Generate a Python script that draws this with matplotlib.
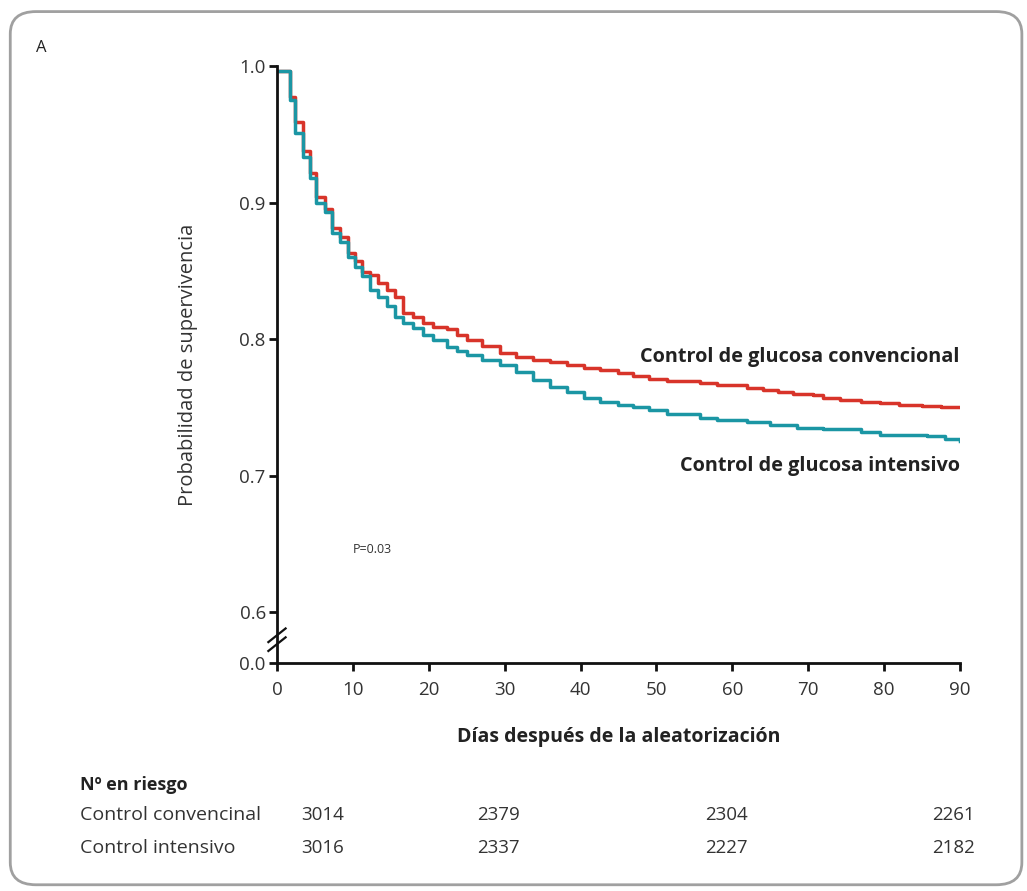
import matplotlib.pyplot as plt
from matplotlib.patches import FancyBboxPatch

plt.rcParams['font.family'] = ['Open Sans', 'DejaVu Sans']

# curva roja: control de glucosa convencional
conv_days = [0, 1.7, 2.4, 3.4, 4.3, 5.2, 6.3, 7.2, 8.3, 9.3, 10.3, 11.2, 12.3, 13.3,
             14.5, 15.5, 16.6, 17.9, 19.2, 20.5, 22.4, 23.7, 25, 27, 29.4, 31.5, 33.7,
             36, 38.2, 40.5, 42.6, 45, 46.9, 49, 51.4, 55.7, 58, 61.9, 64, 66, 68,
             70.6, 72, 74.2, 77, 79.5, 82, 85, 87.5, 90]
conv_surv = [0.996, 0.977, 0.959, 0.938, 0.922, 0.904, 0.895, 0.881, 0.875, 0.863,
             0.857, 0.849, 0.847, 0.841, 0.836, 0.831, 0.819, 0.816, 0.812, 0.809,
             0.807, 0.803, 0.799, 0.795, 0.790, 0.787, 0.785, 0.783, 0.781, 0.779,
             0.777, 0.775, 0.773, 0.771, 0.769, 0.768, 0.766, 0.764, 0.763, 0.761,
             0.760, 0.759, 0.757, 0.755, 0.754, 0.753, 0.752, 0.751, 0.750, 0.750]

# curva azul: control de glucosa intensivo
int_days = [0, 1.7, 2.4, 3.4, 4.3, 5.2, 6.3, 7.2, 8.3, 9.3, 10.3, 11.2, 12.3, 13.3,
            14.5, 15.5, 16.6, 17.9, 19.2, 20.5, 22.4, 23.7, 25, 27, 29.4, 31.5, 33.7,
            36, 38.2, 40.5, 42.6, 45, 46.9, 49, 51.4, 55.7, 58, 61.9, 65, 68.5, 72,
            75, 77, 79.5, 82, 85.6, 88, 90]
int_surv = [0.996, 0.975, 0.951, 0.933, 0.918, 0.900, 0.893, 0.878, 0.871, 0.860,
            0.853, 0.846, 0.836, 0.831, 0.824, 0.816, 0.812, 0.808, 0.803, 0.799,
            0.794, 0.791, 0.788, 0.785, 0.781, 0.776, 0.770, 0.765, 0.761, 0.757,
            0.754, 0.752, 0.750, 0.748, 0.745, 0.742, 0.741, 0.739, 0.737, 0.735,
            0.734, 0.734, 0.732, 0.730, 0.730, 0.729, 0.727, 0.725]

x_ticks = [0, 10, 20, 30, 40, 50, 60, 70, 80, 90]
y_ticks = [0.6, 0.7, 0.8, 0.9, 1.0]

risk_days = [0, 30, 60, 90]
risk_labels = ["Control convencinal", "Control intensivo"]
risk_conv = [3014, 2379, 2304, 2261]
risk_int = [3016, 2337, 2227, 2182]

RED = '#d8342a'
TEAL = '#1b96a4'
FLOOR = 0.5627  # donde se dibuja el 0.0 (eje cortado)

fig = plt.figure(figsize=(10.27, 8.91), dpi=100)

# marco redondeado
frame = FancyBboxPatch((0.010, 0.007), 0.985, 0.980,
                       boxstyle="round,pad=0,rounding_size=0.025",
                       transform=fig.transFigure, fill=False,
                       edgecolor='#a0a0a0', linewidth=2.0)
fig.patches.append(frame)
fig.text(0.040, 0.946, "A", fontsize=12, ha='center', va='center', color='#222222')

ax = fig.add_axes([0.2697, 0.2559, 0.6650, 0.6700])

ax.step(conv_days, conv_surv, where='post', color=RED, linewidth=2.5)
ax.step(int_days, int_surv, where='post', color=TEAL, linewidth=2.5)

ax.set_xlim(0, 90)
ax.set_ylim(FLOOR, 1.0)
ax.set_xticks(x_ticks)
ax.set_yticks([FLOOR] + y_ticks)
ax.set_yticklabels(["0.0"] + ["%.1f" % v for v in y_ticks])

for s in ['top', 'right']:
    ax.spines[s].set_visible(False)
for s in ['left', 'bottom']:
    ax.spines[s].set_linewidth(2.0)
    ax.spines[s].set_color('#111111')
ax.tick_params(axis='both', direction='out', length=6, width=2.0,
               labelsize=13.5, labelcolor='#333333', color='#111111')
ax.tick_params(axis='x', pad=7)
ax.tick_params(axis='y', pad=2)

# marca de corte del eje
for dy in (0.0, 0.0065):
    ax.plot([-1.25, 1.25], [0.571 + dy, 0.582 + dy], color='#111111', linewidth=1.6,
            clip_on=False, solid_capstyle='butt')

ax.set_ylabel("Probabilidad de supervivencia", fontsize=14.5, color='#333333', labelpad=30)
ax.set_xlabel("Días después de la aleatorización", fontsize=14, fontweight='bold',
              color='#222222', labelpad=20)

ax.text(90, 0.787, "Control de glucosa convencional", fontsize=14.3, fontweight='bold',
        ha='right', va='center', color='#222222')
ax.text(90, 0.707, "Control de glucosa intensivo", fontsize=14.3, fontweight='bold',
        ha='right', va='center', color='#222222')
ax.text(12.6, 0.646, "P=0.03", fontsize=9, ha='center', va='center', color='#333333')

# tabla de pacientes en riesgo
trans = ax.get_xaxis_transform()
fig.text(0.078, 0.119, "Nº en riesgo", fontsize=13, fontweight='bold',
         va='center', color='#222222')
row_y = [-0.255, -0.31]
for lab, vals, ry in zip(risk_labels, [risk_conv, risk_int], row_y):
    ax.text(-26, ry, lab, transform=trans, fontsize=14,
            ha='left', va='center', color='#333333')
    for d, v in zip(risk_days, vals):
        xpos = d + 6 if d == 0 else d - 0.8
        ax.text(xpos, ry, str(v), transform=trans, fontsize=13.5,
                ha='center', va='center', color='#333333', clip_on=False)

fig.savefig('out.png', dpi=100)
